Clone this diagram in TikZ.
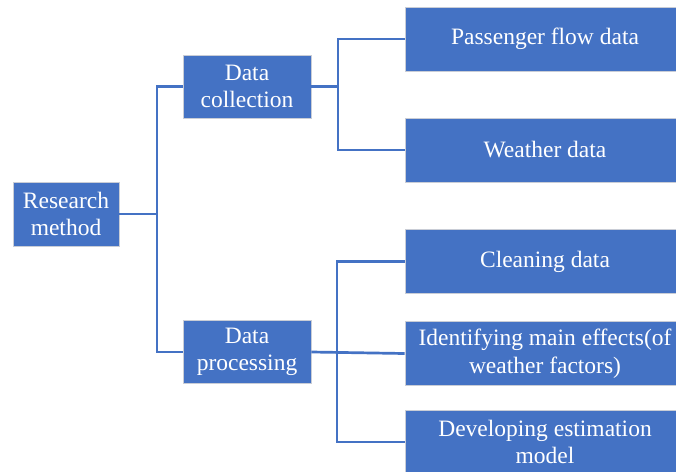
\documentclass[tikz,border=0pt]{standalone}
\usepackage{fontspec}
\setmainfont{Liberation Serif}
\usetikzlibrary{calc}
\definecolor{cBox}{HTML}{4472C4}
\definecolor{cEdge}{HTML}{C9CDD6}
\definecolor{cLink}{HTML}{4472C4}
\tikzset{
    x=1pt, y=-1pt,
    box/.style={draw=cEdge, line width=0.8pt, fill=cBox, text=white,
                inner sep=0pt, align=center,
                font=\fontsize{23.5}{27.5}\selectfont},
    rootbox/.style={box, minimum width=106pt, minimum height=64pt},
    midbox/.style={box, minimum width=128pt, minimum height=63pt},
    leafbox/.style={box, minimum width=280pt, minimum height=64pt},
    link/.style={draw=cLink, line width=2.7pt},
}

\begin{document}
\begin{tikzpicture}
    \clip (0,0) rectangle (676,471);
    \fill[white] (0,0) rectangle (676,471);

    \node[rootbox] (root) at (66,214) {Research\\method};

    \node[midbox] (coll) at (247,86.5) {Data\\collection};
    \node[midbox] (proc) at (247,352) {Data\\processing};

    \node[leafbox] (pass)  at (545,39)    {Passenger flow data};
    \node[leafbox] (weath) at (545,150)   {Weather data};
    \node[leafbox] (clean) at (545,261.5) {Cleaning data};
    \node[leafbox] (ident) at (545,353.5) {Identifying main effects(of\\weather factors)};
    \node[leafbox] (devel) at (545,442)   {Developing estimation\\model};

    % trunk from the root to both branches
    \coordinate (trunk) at (157,214);
    \draw[link] (root.east) -- (trunk);
    \draw[link] (coll.west) -| (trunk) |- (proc.west);

    % collection fork
    \coordinate (forkA) at (338,86.5);
    \draw[link] (coll.east) -- (forkA);
    \draw[link] (pass.west) -| (forkA) |- (weath.west);

    % processing fork
    \coordinate (forkB) at (337,352);
    \draw[link] (proc.east) -- (ident.west);
    \draw[link] (clean.west) -| (forkB) |- (devel.west);
\end{tikzpicture}
\end{document}
